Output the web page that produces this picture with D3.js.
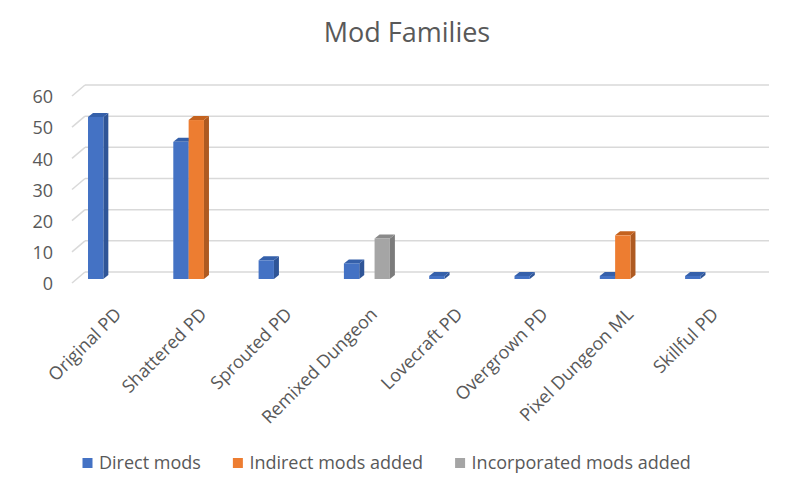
<!DOCTYPE html>
<html>
<head>
<meta charset="utf-8">
<script src="https://cdn.jsdelivr.net/npm/d3@7"></script>
<style>
  body { margin: 0; background: #fff; }
  text { font-family: "Open Sans", sans-serif; fill: #595959; }
</style>
</head>
<body>
<div id="vis"></div>
<script>
var w = 805;
var h = 486;

// chart data
var categories = ['Original PD', 'Shattered PD', 'Sprouted PD', 'Remixed Dungeon',
  'Lovecraft PD', 'Overgrown PD', 'Pixel Dungeon ML', 'Skillful PD'];
var seriesNames = ['Direct mods', 'Indirect mods added', 'Incorporated mods added'];
var directMods = [52, 44, 6, 5, 1, 1, 1, 1];
var indirectMods = [null, 51, null, null, null, null, 14, null];
var incorporatedMods = [null, null, null, 13, null, null, null, null];
var yTicks = [0, 10, 20, 30, 40, 50, 60];

var seriesValues = [directMods, indirectMods, incorporatedMods];
var colors = [
  { front: '#4472C4', side: '#2F5597', top: '#3560AA' },
  { front: '#ED7D31', side: '#AE5A21', top: '#C4621E' },
  { front: '#A5A5A5', side: '#7B7B7B', top: '#8A8A8A' }
];

var svg = d3.select('#vis')
  .append('svg')
    .attr('width', w)
    .attr('height', h);

// floor / wall geometry (3d look)
var wallDx = 13, wallDy = -11;    // depth of the plot box
var barDx = 5, barDy = -4;        // depth of each column
var floorFrontY = 283;
var barBaseY = 279;

var yBack = d3.scaleLinear().domain([0, 60]).range([floorFrontY + wallDy, floorFrontY + wallDy - 187]);
var yFront = d3.scaleLinear().domain([0, 60]).range([floorFrontY, floorFrontY - 187]);
var yBar = d3.scaleLinear().domain([0, 60]).range([barBaseY, barBaseY - 187]);

var x0 = d3.scaleBand().domain(categories).range([68.4, 68.4 + 8 * 85.3]);
var x1 = d3.scaleBand().domain(seriesNames).range([19.6, 19.6 + 46]);

// title
svg.append('text')
  .attr('x', 407)
  .attr('y', 42)
  .attr('text-anchor', 'middle')
  .style('font-size', '27px')
  .text('Mod Families');

// gridlines
var grid = svg.append('g').attr('class', 'grid');
grid.selectAll('line.back')
  .data(yTicks)
  .enter()
  .append('line')
    .attr('x1', 72 + wallDx)
    .attr('x2', 769)
    .attr('y1', function(d) { return yBack(d); })
    .attr('y2', function(d) { return yBack(d); })
    .style('stroke', '#D9D9D9')
    .style('stroke-width', 1.5);
grid.selectAll('line.side')
  .data(yTicks)
  .enter()
  .append('line')
    .attr('x1', 72)
    .attr('x2', 72 + wallDx)
    .attr('y1', function(d) { return yFront(d); })
    .attr('y2', function(d) { return yBack(d); })
    .style('stroke', '#D9D9D9')
    .style('stroke-width', 1.5);

// y axis labels
var yAxis = svg.append('g')
  .attr('transform', 'translate(53,1)')
  .call(d3.axisLeft(yFront).tickValues(yTicks).tickSize(0).tickPadding(0));
yAxis.select('.domain').remove();
yAxis.selectAll('text')
  .style('font-size', '18px')
  .style('font-family', '"Open Sans", sans-serif')
  .attr('fill', '#595959');

// columns, flattened so they draw left to right
var bars = [];
categories.forEach(function(c, i) {
  seriesNames.forEach(function(s, j) {
    var v = seriesValues[j][i];
    if (v != null) bars.push({ cat: c, series: s, idx: j, value: v });
  });
});

var bw = x1.bandwidth();
var col = svg.selectAll('g.col')
  .data(bars)
  .enter()
  .append('g')
    .attr('class', 'col');

col.each(function(d) {
  var g = d3.select(this);
  var xl = x0(d.cat) + x1(d.series);
  var xr = xl + bw;
  var yt = yBar(d.value);
  var yb = barBaseY;
  // side face
  g.append('path')
    .attr('d', 'M' + xr + ',' + yb + 'L' + (xr + barDx) + ',' + (yb + barDy) +
      'L' + (xr + barDx) + ',' + (yt + barDy) + 'L' + xr + ',' + yt + 'Z')
    .style('fill', colors[d.idx].side);
  // top face
  g.append('path')
    .attr('d', 'M' + xl + ',' + yt + 'L' + (xl + barDx) + ',' + (yt + barDy) +
      'L' + (xr + barDx) + ',' + (yt + barDy) + 'L' + xr + ',' + yt + 'Z')
    .style('fill', colors[d.idx].top);
  // front face
  g.append('rect')
    .attr('x', xl)
    .attr('y', yt)
    .attr('width', bw)
    .attr('height', yb - yt)
    .style('fill', colors[d.idx].front);
});

// category labels
svg.append('g')
  .selectAll('text')
  .data(categories)
  .enter()
  .append('text')
    .attr('text-anchor', 'end')
    .attr('dy', '0.35em')
    .style('font-size', '18px')
    .attr('transform', function(d) {
      var cx = x0(d) + x0.bandwidth() / 2;
      return 'translate(' + (cx + 7) + ',311) rotate(-45)';
    })
    .text(function(d) { return d; });

// legend
var legend = svg.append('g').attr('transform', 'translate(82.5,463)');
var lx = 0;
seriesNames.forEach(function(s, j) {
  var item = legend.append('g').attr('transform', 'translate(' + lx + ',0)');
  item.append('rect')
    .attr('x', 0)
    .attr('y', -5)
    .attr('width', 10)
    .attr('height', 10)
    .style('fill', colors[j].front);
  var t = item.append('text')
    .attr('x', 16.5)
    .attr('dy', '0.35em')
    .style('font-size', '18px')
    .text(s);
  lx += 16.5 + t.node().getComputedTextLength() + 32;
});
</script>
</body>
</html>
